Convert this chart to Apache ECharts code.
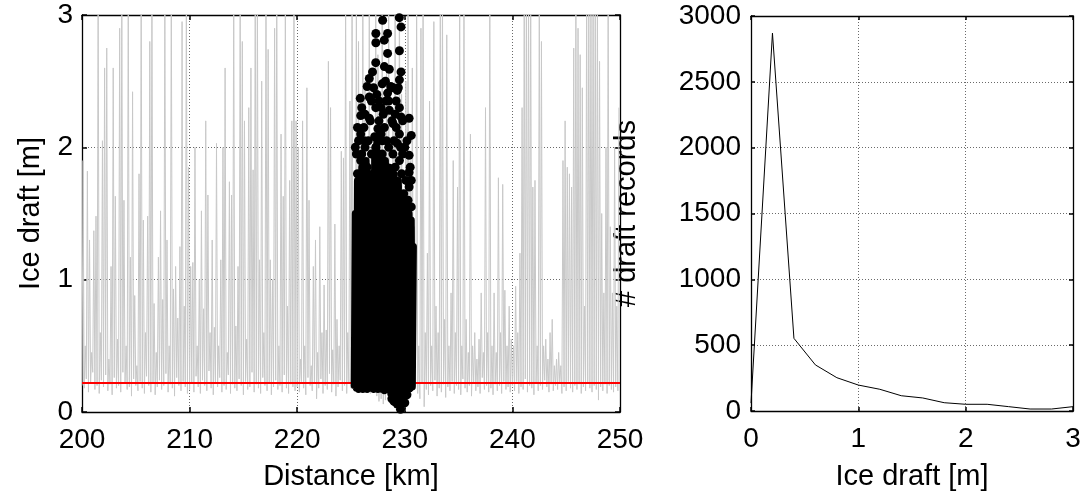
<!DOCTYPE html>
<html>
<head>
<meta charset="utf-8">
<script src="https://cdn.jsdelivr.net/npm/echarts@6/dist/echarts.min.js"></script>
<style>html,body{margin:0;padding:0;background:#fff}#c{width:1085px;height:492px}</style>
</head>
<body>
<div id="c"></div>
<script>
// ---- Left panel: ice draft profile along distance ----
const segmentStartKm = [200, 210, 220, 230, 240];
const sampleStepKm = 0.1;
const troughs200 = [0.2,0.18,0.25,0.15,0.22,0.3,0.17,0.2,0.14,0.24,0.19,0.28,0.16,0.21,0.13,0.26,0.18,0.2,0.15,0.3,0.22,0.17,0.19,0.12,0.25,0.2,0.16,0.23,0.18,0.14,0.27,0.2,0.15,0.22,0.13,0.19,0.24,0.17,0.2,0.29,0.15,0.21,0.18,0.12,0.26,0.2,0.16,0.23,0.19,0.14];
const peaks200 = [1.9,0.5,1.82,1.3,0.45,1.37,1.48,3.2,0.6,2.05,2.6,2.75,0.4,1.1,2.6,1.63,0.55,2.9,3.2,1.6,0.5,3.2,1.17,2.42,0.88,0.35,1.8,3.2,1.45,0.6,1.48,2.8,3.2,0.82,0.45,1.17,1.52,0.85,3.2,1.3,0.5,3.2,0.93,1.1,0.71,1.25,2.95,0.8,3.2,1.85];
const troughs210 = [0.17,0.22,0.15,0.27,0.19,0.14,0.24,0.2,0.16,0.31,0.18,0.13,0.22,0.19,0.26,0.15,0.2,0.17,0.28,0.14,0.21,0.18,0.16,0.25,0.2,0.13,0.23,0.17,0.19,0.3,0.15,0.21,0.18,0.14,0.26,0.2,0.16,0.22,0.13,0.19,0.24,0.17,0.2,0.15,0.28,0.18,0.14,0.21,0.19,0.16];
const peaks210 = [1.1,1.13,2.0,0.5,1.0,1.52,0.78,2.2,1.64,0.6,1.3,0.64,2.03,0.5,1.15,2.0,2.6,0.45,1.74,1.64,3.2,0.65,1.1,3.2,2.8,2.2,0.55,2.3,2.6,1.83,3.2,3.2,1.15,2.5,0.6,3.2,2.74,1.15,1.0,2.9,3.2,0.5,2.1,1.63,3.2,0.8,1.75,2.2,3.2,2.2];
const troughs220 = [0.19,0.15,0.23,0.18,0.13,0.26,0.2,0.16,0.22,0.1,0.18,0.25,0.14,0.2,0.17,0.29,0.15,0.21,0.12,0.19,0.24,0.16,0.2,0.14,0.22,0.18,0.2,0.17,0.19,0.15,0.2,0.18,0.16,0.2,0.14,0.19,0.17,0.12,0.08,0.1,0.06,0.09,0.12,0.15,0.18,0.17,0.2,0.16,0.19,0.18];
const peaks220 = [2.0,0.4,2.2,0.5,2.45,1.6,0.35,1.1,1.3,0.45,1.4,0.6,0.96,0.62,2.65,2.3,0.47,1.42,0.7,0.5,1.97,1.92,3.2,0.6,2.35,3.2,1.5,3.2,2.8,1.5,3.2,2.5,1.2,3.2,2.0,0.8,3.2,2.7,1.9,3.2,1.4,2.6,3.2,1.0,2.2,3.2,1.8,3.2,2.4,1.3];
const troughs230 = [0.17,0.15,0.19,0.16,0.18,0.2,0.14,0.1,0.22,0.04,0.17,0.13,0.2,0.16,0.24,0.12,0.18,0.15,0.21,0.11,0.19,0.16,0.23,0.14,0.2,0.17,0.13,0.25,0.18,0.15,0.2,0.12,0.22,0.16,0.19,0.14,0.26,0.17,0.2,0.15,0.18,0.13,0.21,0.16,0.2,0.14,0.23,0.17,0.19,0.15];
const peaks230 = [2.5,3.2,1.9,2.6,1.4,3.2,0.5,2.9,3.2,0.6,1.2,2.35,0.5,2.95,0.8,0.6,3.2,3.2,0.7,2.85,0.5,0.9,1.9,0.6,1.7,3.2,0.5,3.2,0.7,0.45,2.1,0.5,0.6,0.4,0.55,0.9,0.45,2.3,0.6,3.2,0.5,0.9,0.45,1.77,0.6,1.72,0.92,0.5,0.8,0.55];
const troughs240 = [0.2,0.16,0.23,0.14,0.19,0.17,0.25,0.15,0.2,0.18,0.13,0.22,0.16,0.2,0.17,0.24,0.19,0.15,0.21,0.16,0.2,0.17,0.22,0.14,0.19,0.16,0.23,0.18,0.15,0.2,0.17,0.21,0.14,0.19,0.16,0.22,0.18,0.15,0.2,0.17,0.09,0.19,0.16,0.21,0.14,0.2,0.17,0.15,0.19,0.16];
const peaks240 = [0.5,0.95,0.6,1.2,2.3,3.2,3.2,3.2,3.2,1.7,1.75,0.5,3.2,2.8,0.5,0.55,0.4,0.6,0.7,0.35,0.4,0.45,0.35,1.9,2.2,1.85,1.8,1.7,2.75,3.2,2.9,2.7,2.45,0.8,3.2,3.2,3.2,3.2,3.2,3.2,2.65,1.5,0.9,2.0,3.2,1.4,0.9,2.0,0.8,2.3];

// dense black section (zig-zag of samples)
const blackLineKm = [225.3,225.4,225.5,225.6,225.7,225.8,225.9,226.0,226.1,226.2,226.3,226.4,226.5,226.6,226.7,226.8,226.9,227.0,227.1,227.2,227.3,227.4,227.5,227.6,227.7,227.8,227.9,228.0,228.1,228.2,228.3,228.4,228.5,228.6,228.7,228.8,228.9,229.0,229.1,229.2,229.3,229.4,229.5,229.6,229.7,229.8,229.9,230.0,230.1,230.2,230.3,230.4,230.5,230.6,230.7,230.8];
const blackLineDraft = [0.2,1.5,0.18,1.75,0.17,1.6,0.19,1.85,0.17,1.6,0.18,1.9,0.17,1.7,0.19,1.8,0.18,1.6,0.17,1.95,0.18,2.05,0.17,1.8,0.18,1.95,0.17,1.7,0.16,1.9,0.18,1.65,0.17,1.85,0.14,1.6,0.09,1.8,0.07,1.65,0.06,1.75,0.05,1.55,0.08,1.65,0.12,1.5,0.15,1.6,0.17,1.5,0.18,1.45,0.19,1.25];
// sparse black dots
const blackDotsKm = [227.94,229.49,229.65,227.31,228.4,227.31,228.09,228.4,227.3,229.5,228.1,228.56,227.0,229.65,226.7,229.5,227.9,228.7,226.5,229.3,228.4,225.86,226.7,227.6,228.25,229.2,227.3,229.5,225.9,228.56,230.4,226.7,229.65,226.2,227.5,228.9,230.6,225.9,227.2,227.9,229.5,229.3,230.4,230.4,230.4,230.4,
  225.5,225.6,225.9,226.1,226.3,226.5,226.6,226.9,227.1,227.3,227.5,227.7,227.9,228.1,228.3,228.5,228.7,228.9,229.1,229.3,229.5,229.7,229.9,230.1,230.3,230.6,226.2,226.8,227.6,228.0,228.8,229.2,229.8,230.0,225.7,226.4,227.0,228.6,229.4,230.5,
  225.4,225.6,226.0,226.3,226.9,227.1,227.4,227.8,228.2,228.5,228.9,229.1,229.4,229.8,230.2,230.6,226.0,226.6,227.8,228.3,229.0,229.6,
  229.6,230.2,230.0,229.3,229.0,228.8,230.4];
const blackDotsDraft = [2.96,2.98,2.91,2.86,2.86,2.79,2.81,2.71,2.64,2.73,2.61,2.59,2.57,2.57,2.52,2.51,2.48,2.46,2.46,2.43,2.41,2.37,2.38,2.35,2.35,2.35,2.30,2.30,2.24,2.28,2.22,2.22,2.23,2.15,2.14,2.18,2.09,2.10,2.08,2.05,2.10,2.03,1.94,1.81,1.74,1.70,
  1.95,1.8,1.9,1.75,2.0,1.85,1.65,1.95,1.8,2.0,1.9,1.75,1.95,2.15,1.85,2.0,1.8,1.95,1.85,1.7,1.9,1.8,1.65,1.75,1.6,1.55,2.05,2.2,2.2,2.25,2.2,2.15,1.95,2.0,2.05,1.6,1.65,1.6,1.55,1.85,
  2.0,2.15,2.3,2.25,2.35,2.45,2.4,2.3,2.5,2.35,2.45,2.25,2.45,2.2,2.05,1.75,1.95,2.05,2.1,2.05,2.05,2.0,
  0.02,0.13,0.07,0.06,0.08,0.1,0.18];

const thresholdKm = [200, 250];
const thresholdDraft = [0.22, 0.22];

// ---- Right panel: histogram of ice draft ----
const histDraft = [0,0.2,0.4,0.6,0.8,1.0,1.2,1.4,1.6,1.8,2.0,2.2,2.4,2.6,2.8,3.0];
const histCount = [60,2870,552,350,253,197,165,116,99,63,51,51,33,15,15,33];

// ---- build series data ----
const troughSets = [troughs200, troughs210, troughs220, troughs230, troughs240];
const peakSets = [peaks200, peaks210, peaks220, peaks230, peaks240];
const profile = [];
segmentStartKm.forEach((s, k) => {
  const tr = troughSets[k], pk = peakSets[k];
  for (let i = 0; i < pk.length; i++) {
    profile.push([s + (2 * i) * sampleStepKm, tr[i]]);
    profile.push([s + (2 * i + 1) * sampleStepKm, pk[i]]);
  }
});
const blackLine = blackLineKm.map((x, i) => [x, blackLineDraft[i]]);
const blackDots = blackDotsKm.map((x, i) => [x, blackDotsDraft[i]]);
const threshold = thresholdKm.map((x, i) => [x, thresholdDraft[i]]);
const hist = histDraft.map((x, i) => [x, histCount[i]]);

const FONT = 'Liberation Sans, Arial, sans-serif';
const gridLine = { show: true, lineStyle: { color: '#6a6a6a', type: [1, 2], width: 1 } };
const axLine = { show: true, onZero: false, lineStyle: { color: '#000', width: 1.3 } };
const tick = (len) => ({ show: true, inside: true, length: len, lineStyle: { color: '#000', width: 1.5 } });
const lbl = (m) => ({ fontFamily: FONT, fontSize: 28, color: '#000', margin: m, formatter: (v) => String(v) });
const nameStyle = { fontFamily: FONT, fontSize: 29, color: '#000' };

const chart = echarts.init(document.getElementById('c'), null, { renderer: 'canvas' });
chart.setOption({
  animation: false,
  backgroundColor: '#fff',
  grid: [
    { left: 82, top: 15, width: 538, height: 397, containLabel: false, outerBoundsMode: 'none' },
    { left: 751, top: 16, width: 322, height: 395, containLabel: false, outerBoundsMode: 'none' }
  ],
  xAxis: [
    { type: 'value', gridIndex: 0, min: 200, max: 250, interval: 10, position: 'bottom',
      name: 'Distance [km]', nameLocation: 'middle', nameGap: 50, nameTextStyle: nameStyle,
      axisLine: axLine, axisTick: tick(5), axisLabel: lbl(14), splitLine: gridLine },
    { type: 'value', gridIndex: 0, min: 200, max: 250, interval: 10, position: 'top',
      axisLine: axLine, axisTick: tick(5), axisLabel: { show: false }, splitLine: { show: false } },
    { type: 'value', gridIndex: 1, min: 0, max: 3, interval: 1, position: 'bottom',
      name: 'Ice draft [m]', nameLocation: 'middle', nameGap: 51, nameTextStyle: nameStyle,
      axisLine: axLine, axisTick: tick(4), axisLabel: lbl(14), splitLine: gridLine },
    { type: 'value', gridIndex: 1, min: 0, max: 3, interval: 1, position: 'top',
      axisLine: axLine, axisTick: tick(4), axisLabel: { show: false }, splitLine: { show: false } }
  ],
  yAxis: [
    { type: 'value', gridIndex: 0, min: 0, max: 3, interval: 1, position: 'left',
      name: 'Ice draft [m]', nameLocation: 'middle', nameGap: 37, nameTextStyle: nameStyle,
      axisLine: axLine, axisTick: tick(5), axisLabel: lbl(9), splitLine: gridLine },
    { type: 'value', gridIndex: 0, min: 0, max: 3, interval: 1, position: 'right',
      axisLine: axLine, axisTick: tick(5), axisLabel: { show: false }, splitLine: { show: false } },
    { type: 'value', gridIndex: 1, min: 0, max: 3000, interval: 500, position: 'left',
      name: '# draft records', nameLocation: 'middle', nameGap: 110, nameTextStyle: nameStyle,
      axisLine: axLine, axisTick: tick(4), axisLabel: lbl(10), splitLine: gridLine },
    { type: 'value', gridIndex: 1, min: 0, max: 3000, interval: 500, position: 'right',
      axisLine: axLine, axisTick: tick(4), axisLabel: { show: false }, splitLine: { show: false } }
  ],
  series: [
    { type: 'line', xAxisIndex: 0, yAxisIndex: 0, data: profile, showSymbol: false, symbol: 'none',
      lineStyle: { color: '#c8c8c8', width: 1 }, clip: true, silent: true, z: 2 },
    { type: 'line', xAxisIndex: 0, yAxisIndex: 0, data: threshold, showSymbol: false, symbol: 'none',
      lineStyle: { color: '#ff0000', width: 2 }, clip: true, silent: true, z: 3 },
    { type: 'line', xAxisIndex: 0, yAxisIndex: 0, data: blackLine, showSymbol: false, symbol: 'none',
      lineStyle: { color: '#000', width: 7, cap: 'round', join: 'round' }, clip: true, silent: true, z: 4 },
    { type: 'scatter', xAxisIndex: 0, yAxisIndex: 0, data: blackDots, symbol: 'circle', symbolSize: 9,
      itemStyle: { color: '#000', opacity: 1 }, clip: true, silent: true, z: 5 },
    { type: 'line', xAxisIndex: 2, yAxisIndex: 2, data: hist, showSymbol: false, symbol: 'none',
      lineStyle: { color: '#000', width: 1 }, clip: true, silent: true, z: 3 }
  ]
});
</script>
</body>
</html>
